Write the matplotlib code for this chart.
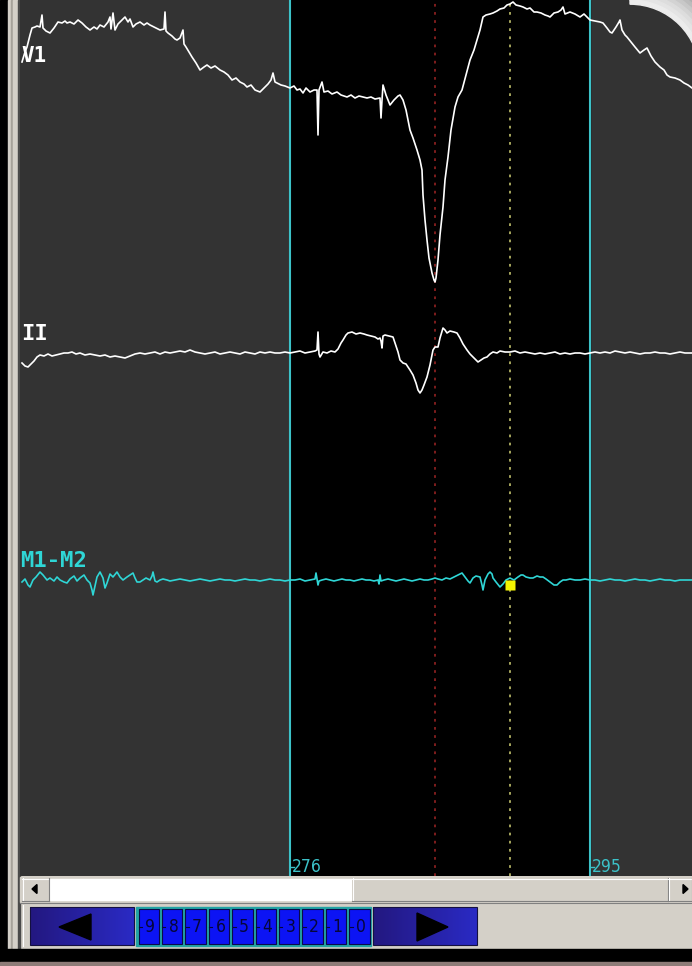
import numpy as np
import matplotlib.pyplot as plt
from matplotlib.patches import Rectangle, Polygon, Wedge
from matplotlib.colors import LinearSegmentedColormap

W, H = 692, 966

# trace samples (screen sample index) and amplitude (screen units, up = positive)
V1_X = [22, 25, 27, 30, 32, 35, 37, 40, 42, 43, 46, 50, 54, 58, 62, 65, 67, 70, 74, 78,
        82, 86, 90, 94, 97, 100, 104, 108, 110, 111, 113, 115, 118, 122, 125, 128, 130, 133, 136, 140,
        144, 147, 150, 154, 158, 160, 164, 165, 166, 168, 172, 175, 177, 180, 183, 184, 186, 189, 192, 196,
        200, 204, 207, 211, 215, 220, 224, 228, 232, 236, 240, 244, 247, 251, 255, 260, 264, 268, 271, 273,
        275, 277, 281, 285, 290, 294, 297, 300, 303, 306, 310, 314, 317, 318, 319, 322, 324, 328, 332, 337,
        341, 344, 347, 351, 355, 359, 363, 367, 371, 375, 380, 381, 382, 383, 386, 390, 394, 398, 400, 403,
        406, 410, 413, 417, 420, 422, 423, 425, 427, 429, 432, 434, 435, 436, 438, 440, 443, 445, 448, 451,
        455, 458, 462, 466, 470, 474, 477, 480, 483, 486, 490, 493, 497, 500, 504, 507, 510, 513, 516, 520,
        523, 527, 530, 534, 537, 541, 545, 548, 550, 554, 558, 561, 563, 565, 570, 575, 580, 584, 588, 590,
        595, 600, 603, 607, 610, 612, 616, 619, 620, 622, 625, 627, 631, 635, 640, 644, 647, 651, 655, 660,
        664, 667, 670, 675, 680, 684, 688, 692]
V1_AMP = [28, 38, 43, 55, 62, 63, 64, 63, 75, 62, 59, 57, 62, 68, 67, 69, 67, 68, 66, 70,
          67, 63, 60, 63, 61, 65, 63, 68, 73, 61, 77, 60, 66, 70, 73, 68, 71, 63, 66, 68,
          65, 67, 65, 63, 61, 60, 61, 78, 59, 57, 54, 51, 50, 52, 60, 46, 43, 38, 33, 27,
          20, 23, 25, 22, 24, 20, 18, 15, 10, 12, 8, 6, 3, 5, 0, -2, 2, 6, 10, 17,
          8, 7, 5, 4, 2, 4, 0, 1, -3, 2, -2, 0, 0, -45, 0, 8, -2, -1, -4, -2,
          -5, -6, -7, -5, -8, -6, -7, -8, -7, -9, -8, -28, -10, 5, -5, -15, -10, -6, -5, -10,
          -20, -40, -48, -60, -70, -80, -105, -130, -150, -168, -183, -190, -192, -188, -170, -145, -117, -90, -67, -40,
          -17, -7, 0, 15, 30, 40, 50, 60, 73, 75, 76, 77, 79, 81, 82, 85, 86, 88, 85, 84,
          83, 81, 82, 78, 78, 77, 75, 74, 73, 77, 78, 80, 83, 76, 78, 76, 73, 76, 72, 70,
          69, 68, 67, 62, 58, 57, 63, 68, 70, 60, 55, 53, 48, 43, 37, 40, 42, 34, 28, 23,
          20, 15, 13, 12, 10, 7, 5, 2]

II_X = [22, 25, 28, 31, 34, 37, 40, 44, 48, 52, 56, 60, 64, 68, 72, 76, 80, 85, 90, 95,
        100, 105, 110, 115, 120, 125, 130, 135, 140, 145, 150, 155, 160, 165, 170, 175, 180, 185, 190, 195,
        200, 205, 210, 215, 220, 225, 230, 235, 240, 245, 250, 255, 260, 265, 270, 275, 280, 285, 290, 295,
        300, 305, 310, 315, 317, 318, 319, 320, 323, 327, 331, 335, 338, 341, 343, 346, 348, 352, 356, 360,
        364, 367, 371, 375, 378, 380, 381, 382, 383, 385, 389, 393, 395, 398, 400, 403, 406, 410, 413, 416,
        418, 420, 422, 424, 427, 430, 433, 435, 438, 440, 443, 445, 447, 450, 454, 457, 460, 463, 467, 470,
        474, 478, 481, 484, 487, 490, 493, 497, 500, 505, 510, 515, 520, 525, 530, 535, 540, 545, 550, 555,
        560, 565, 570, 575, 580, 585, 590, 595, 600, 605, 610, 615, 620, 625, 630, 635, 640, 645, 650, 655,
        660, 665, 670, 675, 680, 685, 692]
II_AMP = [-10, -13, -14, -11, -8, -4, -2, -3, -1, -3, -2, -1, 0, 0, 1, -1, 0, -2, -1, -2,
          -3, -2, -4, -3, -4, -5, -3, -1, 0, -1, 0, 1, -1, 1, 0, 1, 2, 1, 3, 1,
          0, -1, 0, 1, -1, 0, 1, 0, -1, 1, 0, -1, 1, 0, 1, 0, 0, 1, 0, 1,
          2, 0, 1, 2, 3, 21, -1, -4, 1, 0, 2, 1, 4, 10, 13, 18, 20, 21, 19, 20,
          19, 18, 17, 16, 14, 15, 12, 5, 17, 18, 17, 16, 10, 1, -7, -10, -11, -17, -22, -30,
          -37, -40, -37, -32, -24, -12, 3, 6, 6, 15, 25, 23, 20, 22, 21, 20, 15, 9, 3, -1,
          -5, -9, -7, -5, -4, -1, 1, 0, 2, 1, 1, 2, 0, 1, 0, -1, 0, -1, 0, 1,
          -1, 0, -1, 0, 0, -1, 0, 1, 0, 1, 0, 2, 1, 0, 1, 0, -1, 0, 0, 1,
          0, 0, -1, 0, 1, 0, 0]

M_X = [22, 25, 28, 30, 33, 36, 40, 43, 47, 50, 54, 57, 60, 64, 67, 70, 74, 77, 80, 84,
       87, 90, 92, 93, 95, 97, 100, 103, 105, 107, 110, 113, 117, 120, 123, 127, 130, 133, 135, 137,
       140, 143, 146, 150, 152, 153, 155, 157, 160, 163, 167, 170, 175, 180, 185, 190, 195, 200, 205, 210,
       215, 220, 225, 230, 235, 240, 245, 250, 255, 260, 265, 270, 275, 280, 285, 290, 295, 300, 305, 310,
       315, 316, 318, 319, 322, 326, 330, 334, 338, 342, 346, 350, 354, 358, 362, 366, 370, 374, 378, 379,
       380, 381, 384, 388, 392, 396, 400, 404, 408, 412, 416, 420, 424, 428, 432, 435, 438, 442, 446, 450,
       454, 458, 462, 465, 468, 470, 473, 476, 480, 482, 483, 485, 488, 490, 492, 493, 496, 500, 503, 506,
       510, 514, 518, 521, 523, 526, 530, 533, 537, 540, 543, 546, 550, 554, 557, 560, 563, 566, 570, 575,
       580, 585, 590, 595, 600, 605, 610, 615, 620, 625, 630, 635, 640, 645, 650, 655, 660, 665, 670, 675,
       680, 685, 692]
M_AMP = [-2, 1, -5, -7, 0, 3, 8, 5, 0, 2, -1, 3, 0, -2, -3, 1, 4, -1, 2, 5,
         0, -3, -10, -15, -6, 3, 8, 2, -8, -3, 6, 3, 8, 3, 0, 3, 5, 7, 2, -2,
         -2, 0, 2, 0, 4, 8, -1, -2, 0, 1, 0, -1, 0, 1, 0, -1, 0, 1, 0, -1,
         0, 1, 0, 0, -1, 0, 1, 0, 0, -1, 0, 1, 0, 0, -1, 0, 0, 1, -1, 0,
         1, 7, -5, -1, 0, 1, 0, -1, 0, 1, 0, 0, -1, 0, 1, 0, 0, -1, 0, -4,
         5, -1, 0, 1, 0, -1, 0, 1, 0, -1, 0, 1, 0, 0, 1, 2, 1, 0, 2, 1,
         3, 5, 7, 3, -1, -3, 2, 4, 3, -5, -10, 0, 6, 8, 6, 2, -2, -7, -4, 0,
         2, 0, 3, 5, 5, 3, 2, 2, 4, 3, 3, 1, -2, -5, -5, -2, 0, 0, 1, 0,
         0, 1, 0, 0, -1, 0, 1, 0, 0, -1, 0, 1, 0, 0, -1, 0, 1, 0, 0, -1,
         0, 0, 0]

LEAD_NAMES = ["V1", "II", "M1-M2"]
LEAD_COLORS = ["white", "white", "#2fd6d6"]

CURSOR_POS = [290, 590]
CURSOR_LABELS = ["276", "295"]
MARK_RED = 435
MARK_YELLOW = 510
BUTTON_LABELS = ["9", "8", "7", "6", "5", "4", "3", "2", "1", "0"]

GRAY = "#d4d0c8"

fig = plt.figure(figsize=(W / 100, H / 100), dpi=100)
fig.patch.set_facecolor(GRAY)

# window chrome in pixel coordinates
bg = fig.add_axes([0, 0, 1, 1], zorder=0)
bg.set_axis_off()

# left frame strips
bg.add_patch(Rectangle((0, 0), 8, 962, color="black"))
bg.add_patch(Rectangle((8, 0), 3, 950, color=GRAY))
bg.add_patch(Rectangle((11, 0), 2, 950, color="#a6a29a"))
bg.add_patch(Rectangle((13, 0), 5, 950, color=GRAY))
bg.add_patch(Rectangle((18, 0), 2, 950, color="#4a4a4a"))

# horizontal scrollbar
bg.add_patch(Rectangle((20, 877), 672, 25, color=GRAY))
bg.add_patch(Rectangle((50, 879), 302, 21, color="white"))
for x0, w in [(22, 27), (352, 316), (668, 24)]:
    bg.add_patch(Rectangle((x0, 878), w, 23, facecolor=GRAY, edgecolor="none"))
    bg.plot([x0, x0 + w], [878.5, 878.5], color="white", lw=0.8)
    bg.plot([x0 + 0.5, x0 + 0.5], [878, 901], color="white", lw=0.8)
    bg.plot([x0, x0 + w], [900.5, 900.5], color="#808080", lw=0.8)
    bg.plot([x0 + w - 0.5, x0 + w - 0.5], [878, 901], color="#808080", lw=0.8)
bg.add_patch(Polygon([(32, 889), (37, 884.5), (37, 893.5)], color="black"))
bg.add_patch(Polygon([(688, 889), (683, 884.5), (683, 893.5)], color="black"))
bg.plot([20, 692], [902.5, 902.5], color="#808080", lw=0.8)
bg.plot([22.5, 22.5], [905, 946], color="white", lw=0.8)

# bottom navigation buttons
grad = np.linspace(0, 1, 64).reshape(1, -1)
cmap = LinearSegmentedColormap.from_list("btn", ["#231880", "#2a2ac4"])
for x0 in [30, 373]:
    bg.imshow(grad, cmap=cmap, extent=[x0, x0 + 104, 945, 907], aspect="auto", zorder=2)
    bg.add_patch(Rectangle((x0, 907), 104, 38, fill=False, edgecolor="#141040", lw=0.8, zorder=3))
bg.add_patch(Polygon([(59, 927), (91, 914), (91, 940)], color="black", zorder=4))
bg.add_patch(Polygon([(448, 927), (417, 913), (417, 941)], color="black", zorder=4))

bg.add_patch(Rectangle((136, 907), 235, 39, color="#22a4a4", zorder=2))
bw = 234 / len(BUTTON_LABELS)
for i, lab in enumerate(BUTTON_LABELS):
    x0 = 137 + i * bw
    bg.add_patch(Rectangle((x0 + 1.5, 909), bw - 3, 35, facecolor="#0c14f4",
                           edgecolor="#0a0a4a", lw=0.8, zorder=3))
    bg.text(x0 + bw / 2 + 1.5, 927, lab, color="#06063a", fontsize=12.5,
            ha="center", va="center", zorder=4, fontstretch="condensed")
    bg.plot([x0 + 2, x0 + 5], [927, 927], color="#06063a", lw=0.8, zorder=4)

# bottom edge
bg.add_patch(Rectangle((0, 949), W, 13, color="black"))
bg.add_patch(Rectangle((0, 962), W, 4, color="#8e7c78"))

bg.set_xlim(0, W)
bg.set_ylim(H, 0)

# signal panel
ax = fig.add_axes([20 / W, (H - 876) / H, (W - 20) / W, 876 / H], zorder=1)
ax.set_facecolor("#333333")
for s in ax.spines.values():
    s.set_visible(False)
ax.set_xticks([])
ax.set_yticks([])
ax.set_xlim(20, W)
ax.set_ylim(876, 0)

ax.axvspan(CURSOR_POS[0], CURSOR_POS[1], color="black", zorder=1)

# rounded screenshot corner glow
for r, c in zip(range(114, 73, -4),
                ["#8a8a8a", "#939393", "#9c9c9c", "#a6a6a6", "#b0b0b0", "#bcbcbc",
                 "#c8c8c8", "#d3d3d3", "#dddddd", "#e4e4e4", "#ececec"]):
    ax.add_patch(Wedge((630, 74), r, -90, 0, width=4.2, color=c, zorder=1.5))

baselines = [90, 353, 580]
traces = [(V1_X, V1_AMP), (II_X, II_AMP), (M_X, M_AMP)]
for (xs, amps), base, name, col in zip(traces, baselines, LEAD_NAMES, LEAD_COLORS):
    ax.plot(xs, base - np.array(amps), color=col, lw=1.2, zorder=4)

ax.text(21, 66, LEAD_NAMES[0], color="white", fontsize=15, family="DejaVu Sans Mono",
        fontweight="bold", va="bottom", ha="left", zorder=5)
ax.text(21, 344, LEAD_NAMES[1], color="white", fontsize=16, family="DejaVu Sans Mono",
        fontweight="bold", va="bottom", ha="left", zorder=5)
ax.text(20, 571, LEAD_NAMES[2], color="#2fd6d6", fontsize=16, family="DejaVu Sans Mono",
        fontweight="bold", va="bottom", ha="left", zorder=5)

# event markers
ax.axvline(MARK_RED, color="#8a2020", lw=1.3, ls=(0, (1.5, 3)), zorder=2)
ax.axvline(MARK_YELLOW, color="#b4b464", lw=1.3, ls=(0, (1.5, 3)), zorder=2)
ax.plot([MARK_YELLOW], [baselines[2] + 5], marker="s", ms=6.5, color="#f4f400",
        mec="none", zorder=6)

# selection cursors
for pos, lab in zip(CURSOR_POS, CURSOR_LABELS):
    ax.axvline(pos, color="#3cc2c8", lw=1.5, zorder=3)
    ax.plot([pos, pos + 4], [867, 867], color="#3cc2c8", lw=1.0, zorder=3)
    ax.text(pos + 2, 876, lab, color="#3cc2c8", fontsize=12.5, ha="left", va="bottom",
            family="DejaVu Sans", fontstretch="condensed", zorder=5)

fig.savefig("out.png", dpi=100, facecolor=fig.get_facecolor())
